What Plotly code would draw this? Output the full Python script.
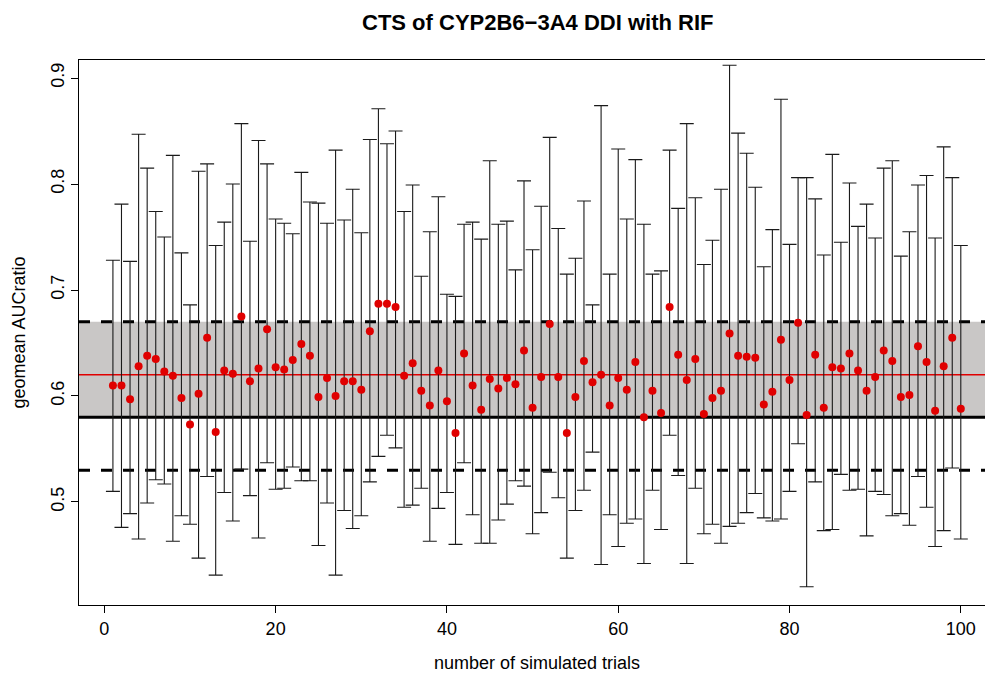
import plotly.graph_objects as go

trials = list(range(1, 101))

geomean = [0.610, 0.610, 0.597, 0.628, 0.638, 0.635, 0.623, 0.619, 0.598, 0.573,
           0.602, 0.655, 0.566, 0.624, 0.621, 0.675, 0.614, 0.626, 0.663, 0.627,
           0.625, 0.634, 0.649, 0.638, 0.599, 0.617, 0.600, 0.614, 0.614, 0.606,
           0.661, 0.687, 0.687, 0.684, 0.619, 0.631, 0.605, 0.591, 0.624, 0.595,
           0.565, 0.640, 0.610, 0.587, 0.616, 0.607, 0.617, 0.611, 0.643, 0.589,
           0.618, 0.668, 0.618, 0.565, 0.599, 0.633, 0.613, 0.620, 0.591, 0.617,
           0.606, 0.632, 0.580, 0.605, 0.584, 0.684, 0.639, 0.615, 0.635, 0.583,
           0.598, 0.605, 0.659, 0.638, 0.637, 0.636, 0.592, 0.604, 0.653, 0.615,
           0.669, 0.582, 0.639, 0.589, 0.627, 0.626, 0.640, 0.624, 0.605, 0.618,
           0.643, 0.633, 0.599, 0.601, 0.647, 0.632, 0.586, 0.628, 0.655, 0.588]

upper = [0.728, 0.781, 0.727, 0.847, 0.815, 0.774, 0.750, 0.827, 0.735, 0.686,
         0.812, 0.819, 0.742, 0.764, 0.800, 0.857, 0.746, 0.841, 0.819, 0.767,
         0.763, 0.753, 0.811, 0.783, 0.782, 0.763, 0.832, 0.766, 0.795, 0.754,
         0.842, 0.871, 0.838, 0.850, 0.774, 0.799, 0.713, 0.755, 0.788, 0.696,
         0.694, 0.762, 0.764, 0.748, 0.822, 0.762, 0.765, 0.719, 0.803, 0.738,
         0.779, 0.844, 0.758, 0.715, 0.730, 0.784, 0.686, 0.874, 0.715, 0.833,
         0.767, 0.823, 0.762, 0.715, 0.718, 0.832, 0.777, 0.857, 0.787, 0.724,
         0.747, 0.795, 0.912, 0.848, 0.829, 0.797, 0.722, 0.757, 0.880, 0.743,
         0.806, 0.806, 0.786, 0.733, 0.828, 0.745, 0.801, 0.760, 0.781, 0.749,
         0.815, 0.822, 0.732, 0.755, 0.799, 0.808, 0.749, 0.835, 0.806, 0.742]

lower = [0.510, 0.476, 0.489, 0.465, 0.499, 0.521, 0.517, 0.463, 0.487, 0.479,
         0.447, 0.524, 0.431, 0.509, 0.482, 0.531, 0.506, 0.466, 0.537, 0.512,
         0.513, 0.533, 0.520, 0.520, 0.459, 0.499, 0.431, 0.492, 0.475, 0.487,
         0.519, 0.543, 0.563, 0.551, 0.495, 0.497, 0.513, 0.463, 0.494, 0.509,
         0.460, 0.537, 0.488, 0.461, 0.461, 0.483, 0.498, 0.520, 0.515, 0.470,
         0.490, 0.528, 0.504, 0.447, 0.492, 0.511, 0.547, 0.441, 0.488, 0.458,
         0.480, 0.484, 0.442, 0.511, 0.474, 0.563, 0.525, 0.442, 0.513, 0.470,
         0.479, 0.461, 0.477, 0.480, 0.490, 0.508, 0.485, 0.482, 0.484, 0.510,
         0.555, 0.420, 0.519, 0.473, 0.474, 0.526, 0.511, 0.512, 0.468, 0.510,
         0.507, 0.487, 0.489, 0.478, 0.524, 0.495, 0.458, 0.473, 0.532, 0.465]

band_low, band_high = 0.58, 0.67
dash_low, dash_high = 0.53, 0.67
observed = 0.62

x_ticks = [0, 20, 40, 60, 80, 100]
y_ticks = [0.5, 0.6, 0.7, 0.8, 0.9]

FONT = "Liberation Sans, Arial, sans-serif"

err_plus = [u - m for u, m in zip(upper, geomean)]
err_minus = [m - l for m, l in zip(geomean, lower)]

fig = go.Figure()
fig.add_trace(go.Scatter(
    x=trials, y=geomean, mode="markers",
    marker=dict(color="#e00000", size=8, line=dict(width=0)),
    error_y=dict(type="data", symmetric=False, array=err_plus, arrayminus=err_minus,
                 color="#1a1a1a", thickness=1.1, width=7),
    showlegend=False, hoverinfo="x+y",
))

shapes = [
    dict(type="rect", xref="paper", x0=0, x1=1, yref="y", y0=band_low, y1=band_high,
         fillcolor="#c9c7c6", line=dict(width=0), layer="below"),
    dict(type="line", xref="paper", x0=0, x1=1, yref="y", y0=dash_high, y1=dash_high,
         line=dict(color="black", width=3, dash="11px,11px"), layer="below"),
    dict(type="line", xref="paper", x0=0, x1=1, yref="y", y0=dash_low, y1=dash_low,
         line=dict(color="black", width=3, dash="11px,11px"), layer="below"),
    dict(type="line", xref="paper", x0=0, x1=1, yref="y", y0=band_low, y1=band_low,
         line=dict(color="black", width=3), layer="below"),
    dict(type="line", xref="paper", x0=0, x1=1, yref="y", y0=observed, y1=observed,
         line=dict(color="#e00000", width=1.6), layer="below"),
]

fig.update_layout(
    width=985, height=676,
    margin=dict(l=79, r=0, t=60, b=71),
    paper_bgcolor="white", plot_bgcolor="white",
    font=dict(family=FONT, size=18, color="black"),
    shapes=shapes,
    annotations=[
        dict(text="<b>CTS of CYP2B6\u22123A4 DDI with RIF</b>", xref="paper", yref="paper",
             x=(537 - 79) / 906, y=(605 - 22) / 545, xanchor="center", yanchor="middle",
             showarrow=False, font=dict(family=FONT, size=22, color="black")),
        dict(text="number of simulated trials", xref="paper", yref="paper",
             x=(537 - 79) / 906, y=(605 - 663) / 545, xanchor="center", yanchor="middle",
             showarrow=False, font=dict(family=FONT, size=18, color="black")),
        dict(text="geomean AUCratio", xref="paper", yref="paper",
             x=(18 - 79) / 906, y=0.5, xanchor="center", yanchor="middle", textangle=-90,
             showarrow=False, font=dict(family=FONT, size=18, color="black")),
    ],
    xaxis=dict(range=[-2.96, (985 - 104.3) / 8.565], tickvals=x_ticks,
               ticks="outside", ticklen=7, tickcolor="black", tickwidth=1,
               showline=True, linecolor="black", linewidth=1, mirror=True,
               showgrid=False, zeroline=False,
               tickfont=dict(family=FONT, size=18)),
    yaxis=dict(range=[0.4028, 0.917], tickvals=y_ticks, tickangle=-90,
               ticks="outside", ticklen=7, tickcolor="black", tickwidth=1,
               showline=True, linecolor="black", linewidth=1, mirror=False,
               showgrid=False, zeroline=False,
               tickfont=dict(family=FONT, size=18)),
)

fig.write_html("out.html")
